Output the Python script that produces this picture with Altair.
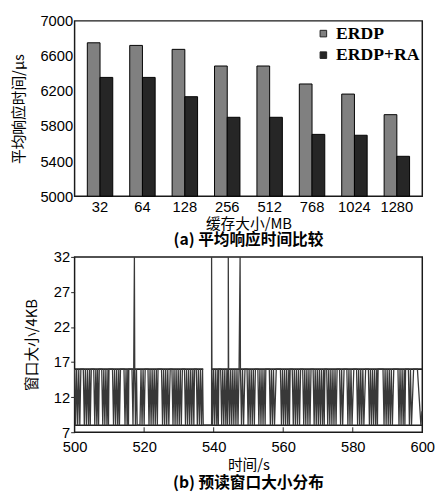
import altair as alt
import pandas as pd

# ---------------- panel (a) data ----------------
cache_sizes = ["32", "64", "128", "256", "512", "768", "1024", "1280"]
series_names = ["ERDP", "ERDP+RA"]
erdp = [6750, 6720, 6675, 6485, 6485, 6280, 6165, 5930]
erdp_ra = [6355, 6355, 6135, 5900, 5900, 5705, 5695, 5455]
rt_ticks = [5000, 5400, 5800, 6200, 6600, 7000]

# ---------------- panel (b) data ----------------
win_time = [
    500.0, 500.3, 500.6, 500.9, 501.2, 501.5, 501.8, 502.5, 502.8, 503.1, 503.4, 503.7,
    504.0, 504.3, 504.5, 504.8, 505.5, 505.8, 506.1, 506.4, 506.6, 506.9, 507.1, 507.8,
    508.1, 508.4, 508.7, 509.0, 509.3, 509.6, 509.75, 509.9, 510.9, 511.2, 511.5, 511.8,
    512.1, 512.4, 512.7, 512.9, 513.2, 514.2, 514.5, 514.8, 515.1, 515.3, 515.5, 515.6,
    516.5, 516.8, 517.0, 517.2, 517.3, 517.5, 517.8, 518.0, 518.8, 519.1, 519.4, 519.7,
    520.0, 520.3, 521.1, 521.4, 521.7, 522.0, 522.3, 522.6, 522.9, 523.2, 523.5, 523.8,
    524.0, 525.0, 525.3, 525.6, 525.9, 526.2, 526.5, 526.8, 527.1, 527.5, 528.0, 528.3,
    528.6, 528.9, 529.2, 529.5, 529.8, 530.1, 530.4, 530.7, 531.0, 531.6, 531.9, 532.2,
    532.5, 532.8, 533.1, 533.4, 533.7, 534.0, 534.3, 534.5, 535.0, 535.3, 535.6, 535.9,
    536.2, 536.5, 536.8, 537.0, 539.4, 539.4, 539.5, 539.7, 540.0, 540.3, 540.6, 540.9,
    541.2, 541.35, 541.5, 542.0, 542.3, 542.6, 542.9, 543.2, 543.5, 543.8, 544.0, 544.2,
    544.2, 544.3, 544.6, 544.9, 545.2, 545.5, 545.8, 546.1, 546.4, 546.7, 547.0, 547.3,
    547.6, 547.7, 548.0, 548.3, 548.6, 549.0, 549.6, 549.9, 550.2, 550.5, 550.8, 551.1,
    551.4, 551.7, 552.0, 552.7, 553.0, 553.3, 553.6, 553.9, 554.2, 554.5, 554.8, 555.0,
    556.0, 556.3, 556.6, 556.9, 557.2, 557.5, 558.0, 559.2, 559.5, 559.8, 560.1, 560.4,
    560.7, 561.0, 561.3, 561.6, 561.8, 562.0, 562.6, 562.9, 563.2, 563.5, 563.8, 564.1,
    564.4, 564.7, 565.0, 565.6, 565.9, 566.2, 566.5, 566.8, 567.1, 567.4, 567.7, 568.0,
    568.6, 568.9, 569.2, 569.5, 569.8, 570.1, 570.4, 570.7, 571.0, 571.3, 571.6, 571.8,
    572.0, 572.5, 572.8, 573.1, 573.4, 573.7, 574.0, 574.3, 574.6, 574.9, 575.2, 575.5,
    576.2, 576.5, 576.8, 577.1, 577.5, 578.3, 578.6, 578.9, 579.2, 579.5, 579.8, 580.3,
    581.1, 581.4, 581.7, 582.0, 582.3, 582.6, 582.9, 583.2, 583.7, 584.5, 584.8, 585.1,
    585.4, 585.7, 586.0, 586.3, 586.6, 586.9, 587.1, 587.3, 588.7, 589.0, 589.3, 589.6,
    589.9, 590.2, 590.5, 590.8, 591.1, 591.4, 591.8, 593.0, 593.3, 593.6, 593.9, 594.2,
    594.5, 594.8, 595.0, 595.2, 596.0, 596.3, 596.6, 596.9, 597.5, 598.6, 599.6, 599.9,
]
win_size = [
    16, 8, 16, 8, 16, 8, 16, 16, 8, 16, 8, 16,
    8, 16, 8, 16, 16, 8, 16, 8, 16, 8, 16, 16,
    8, 16, 8, 16, 8, 16, 8, 16, 16, 8, 16, 8,
    16, 8, 16, 8, 16, 16, 8, 16, 8, 16, 8, 16,
    16, 8, 16, 32, 16, 8, 16, 8, 8, 16, 8, 16,
    8, 16, 16, 8, 16, 8, 16, 8, 16, 8, 16, 8,
    16, 16, 8, 16, 8, 16, 8, 16, 8, 16, 16, 8,
    16, 8, 16, 8, 16, 8, 16, 8, 16, 16, 8, 16,
    8, 16, 8, 16, 8, 16, 8, 16, 16, 8, 16, 8,
    16, 8, 16, 8, 8, 32, 16, 8, 16, 8, 16, 8,
    16, 8, 16, 16, 8, 16, 8, 16, 8, 16, 8, 16,
    32, 16, 8, 16, 8, 16, 8, 16, 8, 16, 8, 16,
    32, 16, 8, 16, 8, 16, 16, 8, 16, 8, 16, 8,
    16, 8, 16, 16, 8, 16, 8, 16, 8, 16, 8, 16,
    16, 8, 16, 8, 16, 8, 16, 16, 8, 16, 8, 16,
    8, 16, 8, 16, 8, 16, 16, 8, 16, 8, 16, 8,
    16, 8, 16, 16, 8, 16, 8, 16, 8, 16, 8, 16,
    16, 8, 16, 8, 16, 8, 16, 8, 16, 8, 16, 8,
    16, 16, 8, 16, 8, 16, 8, 16, 8, 16, 8, 16,
    16, 8, 16, 8, 16, 16, 8, 16, 8, 16, 8, 16,
    16, 8, 16, 8, 16, 8, 16, 8, 16, 16, 8, 16,
    8, 16, 8, 16, 8, 16, 8, 16, 16, 8, 16, 8,
    16, 8, 16, 8, 16, 8, 16, 16, 8, 16, 8, 16,
    8, 16, 8, 16, 16, 8, 16, 8, 16, 16, 8, 10,
]
level_start = [500.0, 539.4, 500.0]
level_end = [537.0, 600.0, 600.0]
level_value = [16, 16, 8]
time_ticks = [500, 520, 540, 560, 580, 600]
inner_time_ticks = [520, 540, 560, 580]
size_ticks = [7, 12, 17, 22, 27, 32]

CJK = "Noto Sans CJK SC"
NUM = "Liberation Sans"
SERIF = "Liberation Serif"

bar_df = pd.DataFrame({
    "cache": cache_sizes * 2,
    "series": [series_names[0]] * len(erdp) + [series_names[1]] * len(erdp_ra),
    "rt": erdp + erdp_ra,
})

bars = alt.Chart(bar_df).mark_bar(stroke="black", strokeWidth=1).encode(
    x=alt.X("cache:N", sort=cache_sizes,
            scale=alt.Scale(paddingInner=0.4, paddingOuter=0.3),
            axis=alt.Axis(title="缓存大小/MB", labelAngle=0, ticks=False,
                          labelPadding=4, titlePadding=2)),
    xOffset=alt.XOffset("series:N", sort=series_names),
    y=alt.Y("rt:Q", scale=alt.Scale(domain=[5000, 7000], zero=False, nice=False),
            axis=alt.Axis(title="平均响应时间/μs", values=rt_ticks, format="d",
                          ticks=False, labelOverlap=False,
                          labelPadding=2, titlePadding=14)),
    y2=alt.datum(5000),
    color=alt.Color("series:N", sort=series_names,
                    scale=alt.Scale(domain=series_names, range=["#808080", "#262626"]),
                    legend=alt.Legend(title=None, orient="none", legendX=245, legendY=4,
                                      labelFont=SERIF, labelFontSize=18,
                                      labelFontWeight="bold", labelColor="black",
                                      symbolType="square", symbolSize=45,
                                      symbolStrokeColor="#222", symbolStrokeWidth=1,
                                      rowPadding=4, padding=0)),
).properties(
    width=355, height=179,
    title=alt.TitleParams("(a) 平均响应时间比较", orient="bottom", font=CJK,
                          fontSize=16, fontWeight="bold", offset=1, color="black"),
)

line_df = pd.DataFrame({"idx": list(range(len(win_time))), "t": win_time, "w": win_size})
level_df = pd.DataFrame({"t0": level_start, "t1": level_end, "w": level_value})
tick_df = pd.DataFrame({"t": inner_time_ticks})

xscale = alt.Scale(domain=[500, 600], nice=False)
yscale = alt.Scale(domain=[7, 32], nice=False, zero=False)
x_axis_b = alt.Axis(title="时间/s", values=time_ticks, ticks=False,
                    labelFlush=False, labelOverlap=False,
                    labelPadding=8, titlePadding=3, grid=False)
y_axis_b = alt.Axis(title="窗口大小/4KB", values=size_ticks, tickSize=4,
                    labelOverlap=False, labelFlush=False,
                    labelPadding=1, titlePadding=14, grid=False)

levels = alt.Chart(level_df).mark_rule(color="#222", strokeWidth=1.6).encode(
    x=alt.X("t0:Q", scale=xscale, axis=x_axis_b),
    x2="t1:Q",
    y=alt.Y("w:Q", scale=yscale, axis=y_axis_b),
)

line = alt.Chart(line_df).mark_line(color="#383838", strokeWidth=1.3).encode(
    x=alt.X("t:Q", scale=xscale, axis=x_axis_b),
    y=alt.Y("w:Q", scale=yscale, axis=y_axis_b),
    order="idx:Q",
)

inner_ticks = alt.Chart(tick_df).mark_rule(color="#222", strokeWidth=1).encode(
    x=alt.X("t:Q", scale=xscale, axis=x_axis_b),
    y=alt.Y(datum=7, type="quantitative", scale=yscale, axis=y_axis_b),
    y2=alt.Y2(datum=7.7),
)

panel_b = alt.layer(levels, line, inner_ticks).properties(
    width=355, height=179,
    title=alt.TitleParams("(b) 预读窗口大小分布", orient="bottom", font=CJK,
                          fontSize=16, fontWeight="bold", offset=3, color="black"),
)

chart = alt.vconcat(bars, panel_b, spacing=0).properties(
    padding={"left": 2, "top": 0, "right": 0, "bottom": 0}
).configure_view(
    stroke="#1a1a1a", strokeWidth=1.5
).configure_axis(
    labelFont=NUM, labelFontSize=15, labelColor="black",
    titleFont=CJK, titleFontSize=15, titleFontWeight="normal", titleColor="black",
    domain=False, grid=False, tickColor="#222",
).configure_legend(
    labelLimit=200
)

chart.save("out.html", embed_options={"renderer": "svg", "actions": False})
